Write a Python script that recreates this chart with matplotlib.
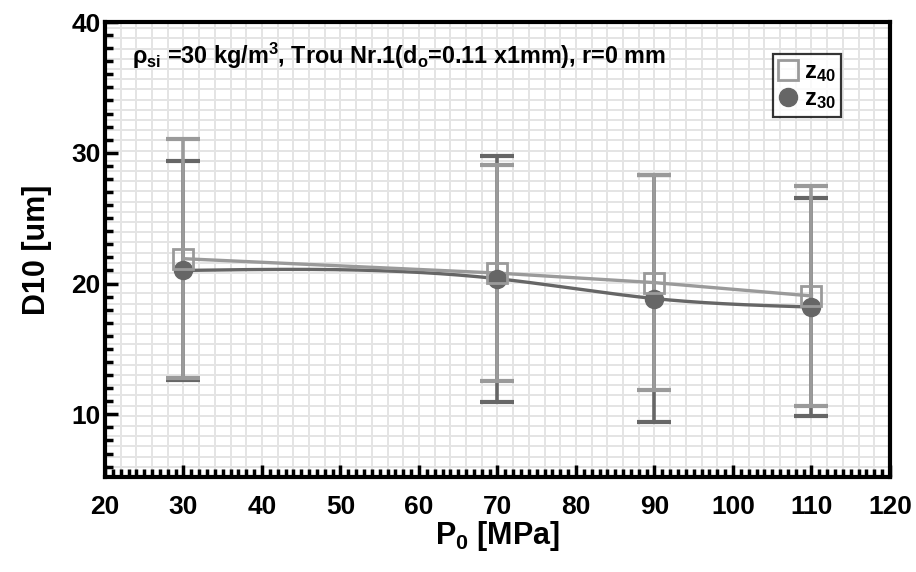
import numpy as np
import matplotlib
matplotlib.use("Agg")
import matplotlib.pyplot as plt
from matplotlib.ticker import MultipleLocator

plt.rcParams['font.family'] = ['Liberation Sans', 'DejaVu Sans']
plt.rcParams['font.weight'] = 'bold'
plt.rcParams['mathtext.fontset'] = 'custom'
plt.rcParams['mathtext.rm'] = 'Liberation Sans:bold'
plt.rcParams['mathtext.it'] = 'Liberation Sans:bold'
plt.rcParams['mathtext.bf'] = 'Liberation Sans:bold'

# Data
pressure = [30, 70, 90, 110]
z40_mean = [21.9, 20.8, 20.07, 19.05]
z40_err = [9.15, 8.25, 8.24, 8.43]
z30_mean = [21.0, 20.37, 18.85, 18.2]
z30_err = [8.4, 9.4, 9.42, 8.35]

c40 = '#9a9a9a'
c30 = '#666666'

def natural_spline(x, y, n=200):
    x = np.asarray(x, float); y = np.asarray(y, float)
    k = len(x)
    h = np.diff(x)
    A = np.zeros((k, k)); b = np.zeros(k)
    A[0, 0] = 1; A[-1, -1] = 1
    for i in range(1, k - 1):
        A[i, i - 1] = h[i - 1]
        A[i, i] = 2 * (h[i - 1] + h[i])
        A[i, i + 1] = h[i]
        b[i] = 6 * ((y[i + 1] - y[i]) / h[i] - (y[i] - y[i - 1]) / h[i - 1])
    M = np.linalg.solve(A, b)
    xs = np.linspace(x[0], x[-1], n)
    ys = np.empty_like(xs)
    for j, xv in enumerate(xs):
        i = min(np.searchsorted(x, xv, side='right') - 1, k - 2)
        t1 = x[i + 1] - xv; t0 = xv - x[i]
        ys[j] = (M[i] * t1**3 + M[i + 1] * t0**3) / (6 * h[i]) \
            + (y[i] / h[i] - M[i] * h[i] / 6) * t1 \
            + (y[i + 1] / h[i] - M[i + 1] * h[i] / 6) * t0
    return xs, ys

fig = plt.figure(figsize=(9.16, 5.72), dpi=100)
ax = fig.add_axes([0.1146, 0.166, 0.857, 0.7955])

ax.set_xlim(20, 120)
ax.set_ylim(5.2, 40)

# grid
for gx in np.arange(20, 120.01, 2):
    ax.axvline(gx, color='#e4e4e4', lw=1.4, zorder=0)
for gy in np.arange(5.2, 40.01, 0.78):
    ax.axhline(gy, color='#e4e4e4', lw=1.4, zorder=0)

# error bars
ax.errorbar(pressure, z30_mean, yerr=z30_err, fmt='none', ecolor=c30,
            elinewidth=2.6, capsize=12.5, capthick=3, zorder=2)
ax.errorbar(pressure, z40_mean, yerr=z40_err, fmt='none', ecolor=c40,
            elinewidth=2.6, capsize=12.5, capthick=3, zorder=3)

# lines
sx, sy = natural_spline(pressure, z30_mean)
ax.plot(sx, sy, color=c30, lw=2.4, zorder=4)
ax.plot(pressure, z40_mean, color=c40, lw=2.4, zorder=4)

ax.plot(pressure, z30_mean, 'o', color=c30, ms=13, mec=c30, zorder=5)
ax.plot(pressure, z40_mean, 's', mfc='none', mec=c40, ms=14, mew=2, zorder=6)

# legend
h40 = ax.plot([], [], 's', mfc='none', mec=c40, ms=14, mew=2)[0]
h30 = ax.plot([], [], 'o', color=c30, ms=13)[0]
leg = ax.legend([h40, h30], [r'z$_{40}$', r'z$_{30}$'], loc='upper right',
                bbox_to_anchor=(0.938, 0.93), fontsize=17, frameon=True,
                fancybox=False, edgecolor='black', handlelength=0.8,
                handletextpad=0.25, borderpad=0.25, labelspacing=0.15,
                borderaxespad=0)
leg.get_frame().set_linewidth(1.6)

ax.text(0.035, 0.925, r'$\rho_{si}$ =30 kg/m$^3$, Trou Nr.1(d$_o$=0.11 x1mm), r=0 mm',
        transform=ax.transAxes, fontsize=16.8, fontweight='bold', va='center', ha='left')

# ticks
ax.xaxis.set_major_locator(MultipleLocator(10))
ax.xaxis.set_minor_locator(MultipleLocator(1))
ax.yaxis.set_major_locator(MultipleLocator(10))
ax.yaxis.set_minor_locator(MultipleLocator(1))
ax.tick_params(which='both', direction='in', top=False, right=False, width=2.5,
               labelsize=19)
ax.tick_params(which='major', length=9)
ax.tick_params(which='minor', length=6)
ax.tick_params(axis='x', which='both', pad=13)
ax.tick_params(axis='y', which='both', pad=3)
for lab in ax.get_xticklabels() + ax.get_yticklabels():
    lab.set_fontweight('bold')
for s in ax.spines.values():
    s.set_linewidth(3)

ax.set_xlabel(r'P$_0$ [MPa]', fontsize=22, fontweight='bold', labelpad=0)
ax.set_ylabel('D10 [um]', fontsize=22, fontweight='bold', labelpad=14)

fig.savefig('out.png', dpi=100)
